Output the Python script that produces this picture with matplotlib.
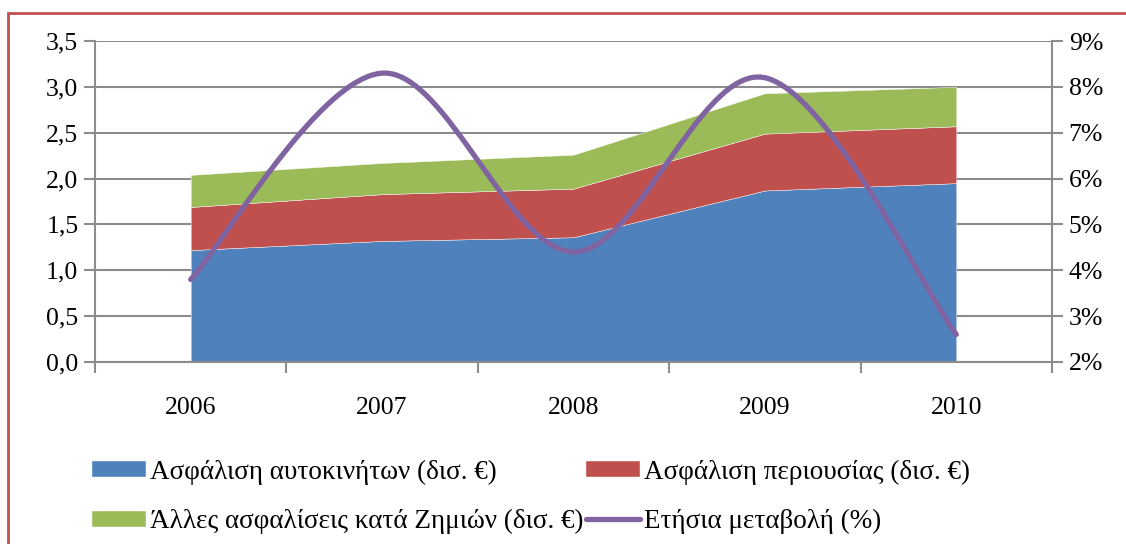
import numpy as np
import matplotlib
matplotlib.use("Agg")
import matplotlib.pyplot as plt
from matplotlib.patches import Rectangle
from matplotlib.ticker import FuncFormatter

years = ["2006", "2007", "2008", "2009", "2010"]
motor = [1.22, 1.32, 1.36, 1.87, 1.95]        # Ασφάλιση αυτοκινήτων
property_ins = [0.47, 0.51, 0.53, 0.62, 0.62]  # Ασφάλιση περιουσίας
other = [0.35, 0.34, 0.37, 0.44, 0.43]         # Άλλες ασφαλίσεις
growth = [3.8, 8.3, 4.4, 8.2, 2.6]            # Ετήσια μεταβολή (%)

labels = ["Ασφάλιση αυτοκινήτων (δισ. €)", "Ασφάλιση περιουσίας (δισ. €)",
          "Άλλες ασφαλίσεις κατά Ζημιών (δισ. €)", "Ετήσια μεταβολή (%)"]
colors = ["#4F81BD", "#C0504D", "#9BBB59", "#8064A2"]

plt.rcParams['font.family'] = ['Liberation Serif', 'DejaVu Serif']


def smooth(y, steps=40):
    # Excel-like bezier smoothing through the points
    x = np.arange(len(y), dtype=float)
    y = np.asarray(y, dtype=float)
    px = np.concatenate([[x[0]], x, [x[-1]]])
    py = np.concatenate([[y[0]], y, [y[-1]]])
    xs, ys = [], []
    t = np.linspace(0, 1, steps)
    for i in range(len(y) - 1):
        p0 = np.array([px[i + 1], py[i + 1]])
        p3 = np.array([px[i + 2], py[i + 2]])
        c1 = p0 + (np.array([px[i + 2], py[i + 2]]) - np.array([px[i], py[i]])) / 6
        c2 = p3 - (np.array([px[i + 3], py[i + 3]]) - np.array([px[i + 1], py[i + 1]])) / 6
        b = ((1 - t) ** 3)[:, None] * p0 + (3 * (1 - t) ** 2 * t)[:, None] * c1 \
            + (3 * (1 - t) * t ** 2)[:, None] * c2 + (t ** 3)[:, None] * p3
        xs.extend(b[:, 0]); ys.extend(b[:, 1])
    return np.array(xs), np.array(ys)


fig = plt.figure(figsize=(11.26, 5.44), dpi=100)
ax = fig.add_axes([95 / 1126, 1 - 362 / 544, (1052 - 95) / 1126, (362 - 41) / 544])

x = np.arange(len(years))
ax.stackplot(x, motor, property_ins, other, colors=colors[:3], labels=labels[:3],
             edgecolor="white", linewidth=0.3, zorder=2)
ax.set_xlim(-0.5, len(years) - 0.5)
ax.set_ylim(0, 3.5)
ax.set_yticks(np.arange(0, 3.51, 0.5))
ax.yaxis.set_major_formatter(FuncFormatter(lambda v, p: f"{v:.1f}".replace(".", ",")))
ax.set_xticks(np.arange(-0.5, len(years), 1.0))
ax.set_xticklabels([])
ax.set_xticks(x, minor=True)
ax.set_xticklabels(years, minor=True)
ax.tick_params(axis="x", which="minor", length=0, pad=25, labelsize=18.5)
ax.tick_params(axis="x", which="major", length=8, width=1.5, color="#8c8c8c", direction="out")
ax.tick_params(axis="y", length=8, width=1.5, color="#8c8c8c", labelsize=18.5, pad=4)
ax.grid(axis="y", color="#8c8c8c", linewidth=1.5, zorder=0)
ax.set_axisbelow(True)
for s in ["top", "right"]:
    ax.spines[s].set_visible(False)
for s in ["left", "bottom"]:
    ax.spines[s].set_color("#8c8c8c")
    ax.spines[s].set_linewidth(1.5)

ax2 = ax.twinx()
sx, sy = smooth(growth)
ax2.plot(sx, sy, color=colors[3], linewidth=3.8, solid_capstyle="round", label=labels[3])
ax2.set_ylim(2, 9)
ax2.set_yticks(np.arange(2, 10, 1))
ax2.yaxis.set_major_formatter(FuncFormatter(lambda v, p: f"{v:.0f}%"))
ax2.tick_params(axis="y", length=8, width=1.5, color="#8c8c8c", labelsize=18.5, pad=4)
for s in ["top", "left", "bottom"]:
    ax2.spines[s].set_visible(False)
ax2.spines["right"].set_color("#8c8c8c")
ax2.spines["right"].set_linewidth(1.5)

h1, l1 = ax.get_legend_handles_labels()
h2, l2 = ax2.get_legend_handles_labels()
handles = [h1[0], h1[2], h1[1], h2[0]]
labs = [l1[0], l1[2], l1[1], l2[0]]
fig.legend(handles, labs, ncol=2, loc="upper left", bbox_to_anchor=(70 / 1126, 1 - 438 / 544),
           frameon=False, fontsize=19.5, handlelength=2.0, handleheight=0.55, handletextpad=0.15,
           columnspacing=0.1, labelspacing=0.9, borderpad=0.3)

fig.patches.append(Rectangle((8 / 1126, -0.05), 1.2, 1 - 13 / 544 + 0.05, transform=fig.transFigure,
                             fill=False, edgecolor="#C0504D", linewidth=2, zorder=10))

fig.savefig("out.png", dpi=100)
